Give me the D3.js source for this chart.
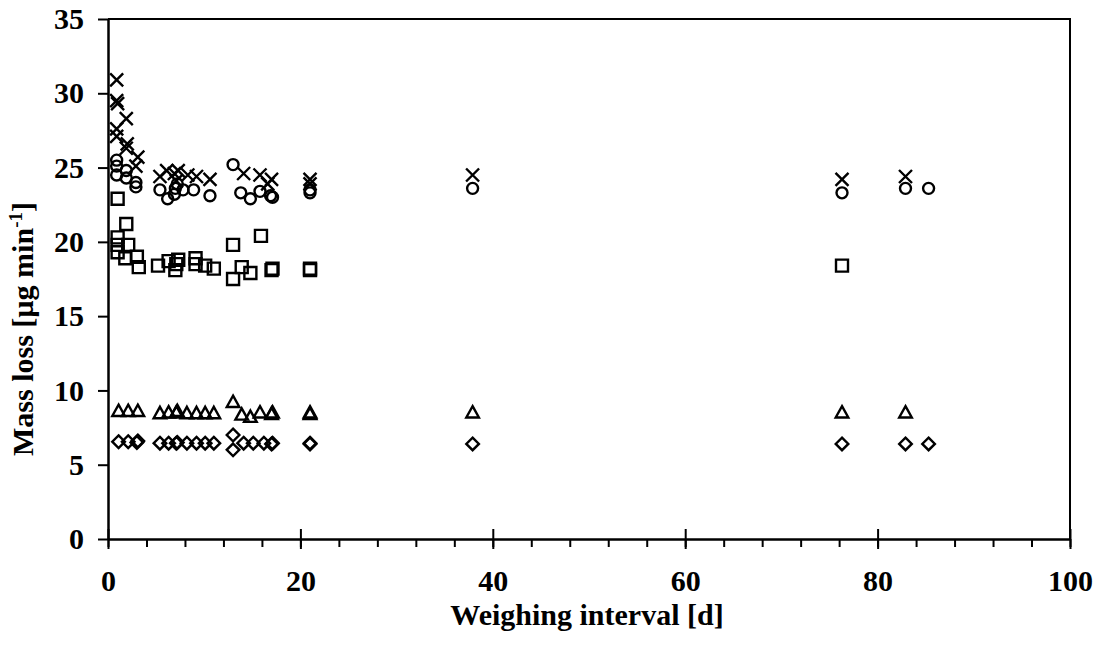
<!DOCTYPE html>
<html><head><meta charset="utf-8">
<script src="https://cdn.jsdelivr.net/npm/d3@7"></script>
<style>body{margin:0;background:#fff}svg{display:block}</style>
</head><body>
<svg id="c" width="1095" height="653"></svg>
<script>
const xTicks = [0, 20, 40, 60, 80, 100];
const yTicks = [0, 5, 10, 15, 20, 25, 30, 35];
const crossX = [0.9,0.9,1.0,1.9,0.9,0.9,2.0,1.9,3.1,2.9,5.4,6.1,6.9,7.3,7.1,8.3,9.2,10.6,14.1,15.8,17.0,16.6,21.0,21.0,37.9,76.3,82.9];
const crossY = [30.9,29.5,29.3,28.3,27.6,27.1,26.6,26.3,25.7,25.1,24.4,24.8,24.6,24.8,24.1,24.5,24.4,24.2,24.6,24.5,24.2,23.9,24.2,23.9,24.5,24.2,24.4];
const circX = [0.9,0.9,0.9,1.9,1.9,2.9,2.9,5.4,6.2,6.9,7.0,7.2,7.8,8.9,10.6,13.0,13.8,14.8,15.8,16.9,17.1,21.0,21.0,37.9,76.3,82.9,85.3];
const circY = [25.5,25.1,24.5,24.8,24.3,24.0,23.7,23.5,22.9,23.2,23.6,23.9,23.5,23.5,23.1,25.2,23.3,22.9,23.4,23.1,23.0,23.3,23.5,23.6,23.3,23.6,23.6];
const sqX = [1.0,1.9,1.0,1.0,1.0,2.1,1.8,3.0,3.2,5.2,6.3,7.0,7.3,7.1,9.1,9.1,10.1,11.0,13.0,13.0,13.9,14.8,15.9,17.0,17.1,21.0,21.0,76.3];
const sqY = [22.9,21.2,20.3,19.8,19.3,19.8,18.9,19.0,18.3,18.4,18.7,18.1,18.8,18.5,18.9,18.5,18.4,18.2,19.8,17.5,18.3,17.9,20.4,18.1,18.2,18.1,18.2,18.4];
const triX = [1.1,2.1,3.1,5.4,6.3,7.1,7.2,8.2,9.2,10.1,11.0,13.0,13.9,14.8,15.8,17.0,17.1,21.0,21.0,37.9,76.3,82.9];
const triY = [8.6,8.6,8.6,8.45,8.5,8.5,8.6,8.45,8.45,8.45,8.45,9.2,8.35,8.2,8.5,8.4,8.5,8.5,8.4,8.5,8.5,8.5];
const diaX = [1.1,2.1,3.1,3.0,5.4,6.3,7.1,7.2,8.2,9.2,10.1,11.0,13.0,13.0,14.1,15.1,16.2,17.0,17.1,21.0,21.0,37.9,76.3,82.9,85.3];
const diaY = [6.55,6.55,6.6,6.5,6.45,6.45,6.45,6.5,6.45,6.45,6.45,6.45,7.0,6.0,6.45,6.45,6.45,6.4,6.45,6.4,6.45,6.4,6.4,6.4,6.4];

const svg = d3.select("#c");
const x = d3.scaleLinear().domain([0,100]).range([108,1070]);
const y = d3.scaleLinear().domain([0,35]).range([539,19]);
const font = "'Liberation Serif','Times New Roman',serif";

// box
svg.append("path").attr("d",`M${x(0)},${y(35)}H${x(100)}V${y(0)}`).attr("fill","none").attr("stroke","#000").attr("stroke-width",2);

// y axis
const ya = svg.append("g").attr("transform",`translate(${x(0)},0)`)
  .call(d3.axisLeft(y).tickValues(yTicks).tickSize(10).tickPadding(14).tickSizeOuter(0));
ya.select(".domain").attr("stroke-width",2.5);
ya.selectAll(".tick line").attr("stroke-width",2);
ya.selectAll("text").attr("font-family",font).attr("font-weight","bold").attr("font-size",30).attr("fill","#000");

// x axis minor ticks
const xm = svg.append("g").attr("transform",`translate(0,${y(0)})`)
  .call(d3.axisBottom(x).tickValues(d3.range(0,101,4)).tickSize(8).tickFormat(""));
xm.select(".domain").remove();
xm.selectAll(".tick line").attr("stroke-width",2);
// x axis major
const xa = svg.append("g").attr("transform",`translate(0,${y(0)})`)
  .call(d3.axisBottom(x).tickValues(xTicks).tickSize(10).tickPadding(21).tickSizeOuter(0));
xa.select(".domain").attr("stroke-width",2.5);
xa.selectAll(".tick line").attr("y1",-10).attr("y2",10).attr("stroke-width",2);
xa.selectAll("text").attr("font-family",font).attr("font-weight","bold").attr("font-size",30).attr("fill","#000");

// titles
svg.append("text").attr("x",587).attr("y",625).attr("text-anchor","middle")
  .attr("font-family",font).attr("font-weight","bold").attr("font-size",30).text("Weighing interval [d]");
const yt = svg.append("text").attr("transform","translate(33,456) rotate(-90)").attr("text-anchor","start")
  .attr("font-family",font).attr("font-weight","bold").attr("font-size",30);
yt.append("tspan").text("Mass loss [µg min");
yt.append("tspan").attr("dy",-11).attr("font-size",19).text("-1");
yt.append("tspan").attr("dy",11).text("]");

// markers
const sym = {
  cross: s => `M${-s},${-s}L${s},${s}M${-s},${s}L${s},${-s}`,
  circle: s => `M${s},0A${s},${s} 0 1 1 ${-s},0A${s},${s} 0 1 1 ${s},0Z`,
  square: s => `M${-s},${-s}H${s}V${s}H${-s}Z`,
  tri: s => `M0,${-s*1.05}L${s},${s*0.75}L${-s},${s*0.75}Z`,
  dia: s => `M0,${-s}L${s},0L0,${s}L${-s},0Z`
};
function series(xs, ys, kind, size){
  svg.append("g").selectAll("path").data(d3.zip(xs, ys)).join("path")
    .attr("transform", d => `translate(${x(d[0])},${y(d[1])})`)
    .attr("d", sym[kind](size))
    .attr("fill","none").attr("stroke","#000").attr("stroke-width",2.4);
}
series(crossX, crossY, "cross", 6.5);
series(circX, circY, "circle", 5.5);
series(sqX, sqY, "square", 6);
series(triX, triY, "tri", 6.3);
series(diaX, diaY, "dia", 6.3);
</script>
</body></html>
